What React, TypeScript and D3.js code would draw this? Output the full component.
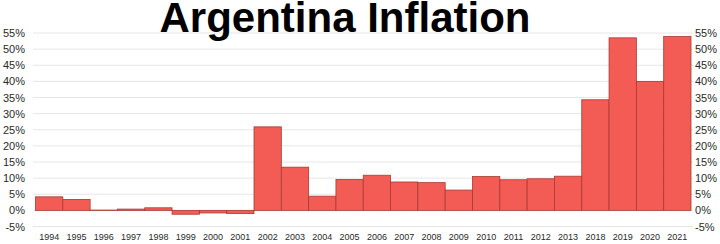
import React from "react";
import * as d3 from "d3";

const years = ["1994","1995","1996","1997","1998","1999","2000","2001","2002","2003","2004","2005","2006","2007","2008","2009","2010","2011","2012","2013","2018","2019","2020","2021"];
const inflation = [4.2,3.4,0.1,0.4,0.8,-1.2,-0.8,-1.0,25.9,13.4,4.4,9.6,10.9,8.8,8.6,6.3,10.5,9.5,9.8,10.6,34.3,53.5,40.0,53.9];
const yTicks = [-5,0,5,10,15,20,25,30,35,40,45,50,55];
const title = "Argentina Inflation";

const W = 720, H = 244;
const left = 35.5, right = 691;
const x = d3.scaleBand<string>().domain(years).range([left, right]).padding(0);
const y = d3.scaleLinear().domain([-5, 55]).range([226.5, 33]);

export default function App() {
  const font = "'Liberation Sans', Arial, Helvetica, sans-serif";
  return (
    <svg width={W} height={H} style={{ position: "absolute", left: 0, top: 0 }}>
      <rect width={W} height={H} fill="#fff" />
      {yTicks.map(t => (
        <g key={t}>
          <line x1={33} x2={693} y1={y(t)} y2={y(t)} stroke="#e6e6e6" strokeWidth={1} />
          <text x={25} y={y(t) + 4} textAnchor="end" fontFamily={font} fontSize={11} fill="#2a2a2a">{t}%</text>
          <text x={695} y={y(t) + 4} textAnchor="start" fontFamily={font} fontSize={11} fill="#2a2a2a">{t}%</text>
        </g>
      ))}
      {years.map((yr, i) => {
        const v = inflation[i];
        const y0 = y(0), y1 = y(v);
        return (
          <rect key={yr} x={x(yr)!} width={x.bandwidth()} y={Math.min(y0, y1)} height={Math.max(Math.abs(y1 - y0), 0.5)}
            fill="#f25c54" stroke="#a83a33" strokeWidth={0.8} />
        );
      })}
      {years.map(yr => (
        <text key={yr} x={x(yr)! + x.bandwidth() / 2} y={239.5} textAnchor="middle" fontFamily={font} fontSize={9} fill="#2a2a2a">{yr}</text>
      ))}
      <text x={345} y={31.5} textAnchor="middle" fontFamily={font} fontWeight="bold" fontSize={42} fill="#000">{title}</text>
    </svg>
  );
}
